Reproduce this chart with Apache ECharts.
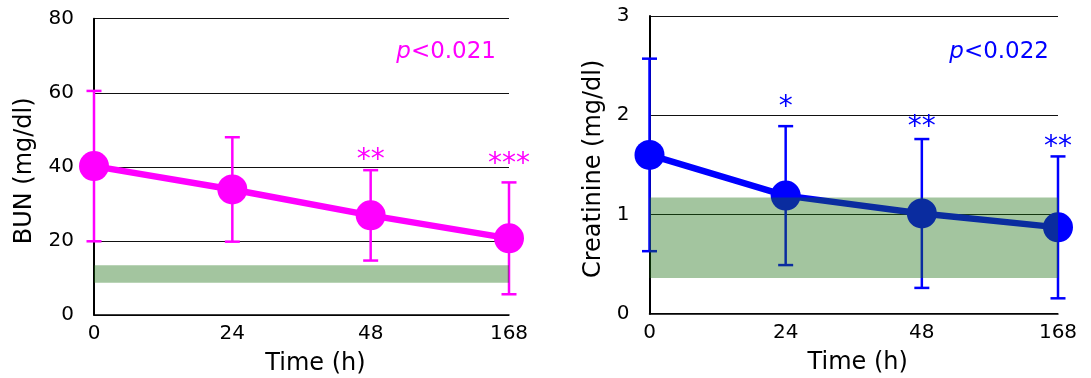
<!DOCTYPE html>
<html>
<head>
<meta charset="utf-8">
<script src="https://cdn.jsdelivr.net/npm/echarts@6/dist/echarts.min.js"></script>
<style>html,body{margin:0;padding:0;background:#fff}#c{width:1091px;height:378px}</style>
</head>
<body>
<div id="c"></div>
<script>
const timeLabels = ['0', '24', '48', '168'];
const bunMean = [40.2, 33.9, 26.9, 20.7];
const bunSD = [20.3, 14.1, 12.2, 15.1];
const bunStars = ['', '', '**', '***'];
const bunStarLevel = [null, null, 43.1, 42.0];
const bunNormal = [8.7, 13.4];
const creMean = [1.6, 1.19, 1.01, 0.87];
const creSD = [0.97, 0.70, 0.75, 0.715];
const creStars = ['', '*', '**', '**'];
const creStarLevel = [null, 2.13, 1.93, 1.73];
const creNormal = [0.36, 1.17];
const bunP = 'p<0.021';
const creP = 'p<0.022';

const MAGENTA = '#ff00ff';
const BLUE = '#0000ff';
const BAND = 'rgba(25,110,15,0.4)';
const FONT = 'DejaVu Sans';

const chart = echarts.init(document.getElementById('c'), null, {renderer: 'canvas'});

function errorSeries(idx, mean, sd, color) {
  return {
    type: 'custom', xAxisIndex: idx, yAxisIndex: idx, z: 4,
    data: mean.map((m, i) => [i, m, sd[i]]),
    encode: {x: 0, y: 1},
    renderItem: function (params, api) {
      const i = api.value(0), m = api.value(1), s = api.value(2);
      const t = api.coord([i, m + s]);
      const b = api.coord([i, m - s]);
      const w = 7.5;
      const st = {stroke: color, lineWidth: 2.5};
      return {type: 'group', children: [
        {type: 'line', shape: {x1: t[0], y1: t[1], x2: b[0], y2: b[1]}, style: st},
        {type: 'line', shape: {x1: t[0] - w, y1: t[1], x2: t[0] + w, y2: t[1]}, style: st},
        {type: 'line', shape: {x1: b[0] - w, y1: b[1], x2: b[0] + w, y2: b[1]}, style: st}
      ]};
    }
  };
}
function bandSeries(idx, band) {
  return {
    type: 'custom', xAxisIndex: idx, yAxisIndex: idx, z: 5,
    data: [[0, band[0], band[1]]],
    encode: {x: 0, y: 1},
    renderItem: function (params, api) {
      const p1 = api.coord([0, api.value(2)]);
      const p2 = api.coord([timeLabels.length - 1, api.value(1)]);
      return {type: 'rect', shape: {x: p1[0], y: p1[1], width: p2[0] - p1[0], height: p2[1] - p1[1]}, style: {fill: BAND}};
    }
  };
}
function starSeries(idx, stars, level, color) {
  const d = [];
  stars.forEach((s, i) => { if (s) d.push([i, level[i], s]); });
  return {
    type: 'custom', xAxisIndex: idx, yAxisIndex: idx, z: 6,
    data: d,
    encode: {x: 0, y: 1},
    renderItem: function (params, api) {
      const p = api.coord([api.value(0), api.value(1)]);
      return {type: 'text', x: p[0], y: p[1] + 5.5, style: {
        text: d[params.dataIndex][2], fill: color, font: '28px "' + FONT + '"',
        align: 'center', verticalAlign: 'middle'}};
    }
  };
}
function lineSeries(idx, mean, color) {
  return {
    type: 'line', xAxisIndex: idx, yAxisIndex: idx, z: 3,
    data: mean, symbol: 'circle', symbolSize: 30,
    lineStyle: {color: color, width: 6.5}, itemStyle: {color: color},
    showSymbol: true
  };
}
function xAxis(gi, shift) {
  return {
    type: 'category', gridIndex: gi, data: timeLabels, boundaryGap: false,
    name: 'Time (h)', nameLocation: 'middle', nameGap: 37,
    nameTextStyle: {fontFamily: FONT, fontSize: 24, color: '#000', padding: [0, 0, 0, shift]},
    axisLine: {lineStyle: {color: '#000', width: 1.5}},
    axisTick: {show: false},
    axisLabel: {fontFamily: FONT, fontSize: 20, color: '#000', margin: 9},
    splitLine: {show: false}
  };
}
function yAxis(gi, max, interval, name, gap) {
  return {
    type: 'value', gridIndex: gi, min: 0, max: max, interval: interval,
    name: name, nameLocation: 'middle', nameGap: gap,
    nameTextStyle: {fontFamily: FONT, fontSize: 24, color: '#000', padding: [0, 8, 0, 0]},
    axisLine: {show: true, lineStyle: {color: '#000', width: 2}},
    axisTick: {show: false},
    axisLabel: {fontFamily: FONT, fontSize: 20, color: '#000', margin: 20},
    splitLine: {show: true, lineStyle: {color: '#111', width: 1}}
  };
}

chart.setOption({
  animation: false,
  grid: [
    {left: 94, top: 18.7, width: 415, height: 296.3, outerBoundsMode: 'none', containLabel: false},
    {left: 649.5, top: 16, width: 408.5, height: 297.7, outerBoundsMode: 'none', containLabel: false}
  ],
  xAxis: [xAxis(0, 28), xAxis(1, 8)],
  yAxis: [yAxis(0, 80, 20, 'BUN (mg/dl)', 57), yAxis(1, 3, 1, 'Creatinine (mg/dl)', 44)],
  graphic: [
    {type: 'text', x: 496, y: 52, style: {
      text: '{i|p}' + bunP.slice(1), fill: MAGENTA, align: 'right', verticalAlign: 'middle',
      font: '23px "' + FONT + '"',
      rich: {i: {fontStyle: 'italic', fontFamily: FONT, fontSize: 23, fill: MAGENTA}}}},
    {type: 'text', x: 1049, y: 52, style: {
      text: '{i|p}' + creP.slice(1), fill: BLUE, align: 'right', verticalAlign: 'middle',
      font: '23px "' + FONT + '"',
      rich: {i: {fontStyle: 'italic', fontFamily: FONT, fontSize: 23, fill: BLUE}}}}
  ],
  series: [
    lineSeries(0, bunMean, MAGENTA),
    errorSeries(0, bunMean, bunSD, MAGENTA),
    bandSeries(0, bunNormal),
    starSeries(0, bunStars, bunStarLevel, MAGENTA),
    lineSeries(1, creMean, BLUE),
    errorSeries(1, creMean, creSD, BLUE),
    bandSeries(1, creNormal),
    starSeries(1, creStars, creStarLevel, BLUE)
  ]
});
</script>
</body>
</html>
